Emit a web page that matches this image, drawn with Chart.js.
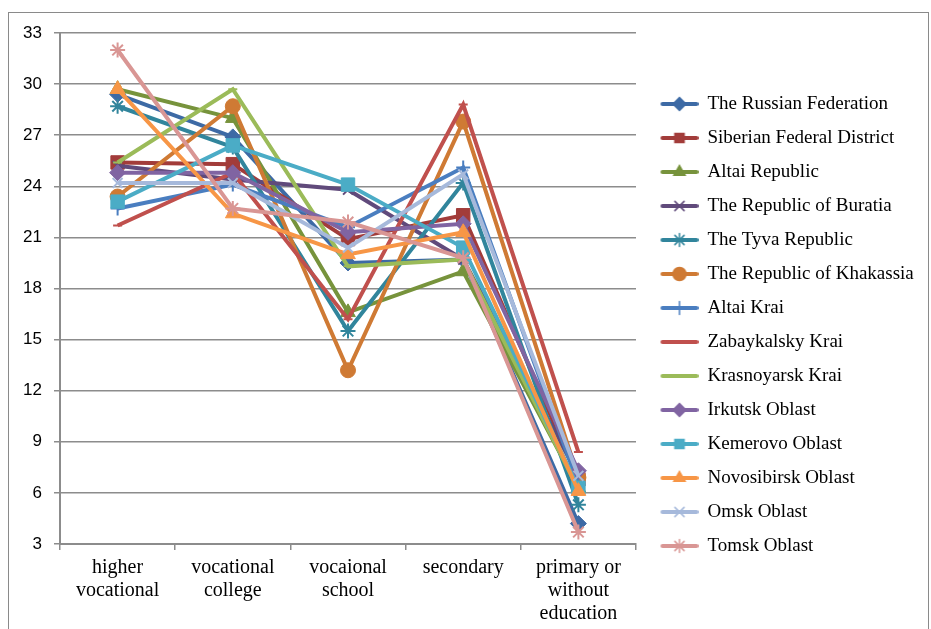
<!DOCTYPE html>
<html>
<head>
<meta charset="utf-8">
<script src="https://cdn.jsdelivr.net/npm/chart.js@4/dist/chart.umd.min.js"></script>
<style>
  html, body { margin: 0; padding: 0; background: #fff; overflow: hidden; }
  #wrap { position: relative; width: 931px; height: 629px; }
  #frame { position: absolute; left: 8px; top: 12px; width: 919px; height: 640px; border: 1px solid #8a8a8a; }
  canvas { position: absolute; left: 0; top: 0; }
</style>
</head>
<body>
<div id="wrap">
  <div id="frame"></div>
  <canvas id="chartCanvas" width="931" height="629"></canvas>
</div>
<script>
// categories (x axis), multi-line like in the picture
const categories = [
  ['higher', 'vocational'],
  ['vocational', 'college'],
  ['vocaional', 'school'],
  ['secondary'],
  ['primary or', 'without', 'education']
];

const yTicks = [3, 6, 9, 12, 15, 18, 21, 24, 27, 30, 33];

// series values
const russianFederation = [29.4, 26.9, 19.5, 19.7, 4.2];
const siberianFD        = [25.4, 25.3, 20.9, 22.3, 6.8];
const altaiRepublic     = [29.7, 28.0, 16.6, 19.0, 6.3];
const buratia           = [25.2, 24.4, 23.8, 19.7, 7.0];
const tyva              = [28.7, 26.3, 15.5, 24.2, 5.3];
const khakassia         = [23.4, 28.7, 13.2, 27.8, 6.9];
const altaiKrai         = [22.7, 24.1, 21.6, 25.1, 6.5];
const zabaykalsky       = [21.7, 24.8, 16.2, 28.8, 8.4];
const krasnoyarsk       = [25.4, 29.7, 19.3, 19.7, 6.2];
const irkutsk           = [24.8, 24.8, 21.3, 21.8, 7.3];
const kemerovo          = [23.1, 26.4, 24.1, 20.4, 6.3];
const novosibirsk       = [29.7, 22.4, 20.0, 21.3, 6.1];
const omsk              = [24.2, 24.2, 20.4, 24.7, 7.0];
const tomsk             = [32.0, 22.7, 21.9, 19.8, 3.7];

const seriesNames = [
  'The Russian Federation', 'Siberian Federal District', 'Altai Republic',
  'The Republic of Buratia', 'The Tyva Republic', 'The Republic of Khakassia',
  'Altai Krai', 'Zabaykalsky Krai', 'Krasnoyarsk Krai', 'Irkutsk Oblast',
  'Kemerovo Oblast', 'Novosibirsk Oblast', 'Omsk Oblast', 'Tomsk Oblast'
];
const seriesValues = [
  russianFederation, siberianFD, altaiRepublic, buratia, tyva, khakassia,
  altaiKrai, zabaykalsky, krasnoyarsk, irkutsk, kemerovo, novosibirsk, omsk, tomsk
];
const seriesColors = [
  '#3D6AA5', '#A23C3A', '#77933C', '#604A7B', '#31859C', '#CF7A34',
  '#4A7EC0', '#C0504D', '#9BBB59', '#8064A2', '#4BACC6', '#F79646', '#A6B9DB', '#D99694'
];
const seriesMarkers = [
  'rectRot', 'rect', 'triangle', 'crossRot', 'star', 'circle',
  'cross', 'line', 'line', 'rectRot', 'rect', 'triangle', 'crossRot', 'star'
];

// marker radius per marker type
const markerRadius = { rectRot: 8, rect: 9.5, triangle: 8.5, crossRot: 7, star: 7.5, circle: 7.5, cross: 7, line: 4.5 };

const gridColor = '#8c8c8c';

function thinMarker(m) {
  return m === 'cross' || m === 'crossRot' || m === 'star' || m === 'line';
}

// small canvas for legend: line with the marker in the middle
function legendIcon(color, marker) {
  const c = document.createElement('canvas');
  c.width = 48; c.height = 18;
  const ctx = c.getContext('2d');
  ctx.strokeStyle = color;
  ctx.lineWidth = 4;
  ctx.lineCap = 'round';
  ctx.beginPath();
  ctx.moveTo(12, 9);
  ctx.lineTo(46, 9);
  ctx.stroke();
  if (marker !== 'line' && Chart.helpers && Chart.helpers.drawPoint) {
    ctx.fillStyle = color;
    ctx.lineWidth = 1.5;
    Chart.helpers.drawPoint(ctx, {pointStyle: marker, radius: 6.5, rotation: 0, borderWidth: 1.5}, 29, 9);
  }
  return c;
}

const datasets = seriesNames.map((name, i) => ({
  label: name,
  data: seriesValues[i],
  borderColor: seriesColors[i],
  backgroundColor: seriesColors[i],
  borderWidth: 4,
  pointStyle: seriesMarkers[i],
  pointRadius: markerRadius[seriesMarkers[i]],
  pointBorderWidth: thinMarker(seriesMarkers[i]) ? 2 : 1,
  pointBackgroundColor: seriesColors[i],
  pointBorderColor: seriesColors[i],
  tension: 0,
  fill: false,
  order: seriesNames.length - i  // later series painted on top
}));

const fixLegendWidth = {
  id: 'fixLegendWidth',
  afterInit(chart) {
    const lg = chart.legend;
    const origFit = lg.fit;
    lg.fit = function () {
      origFit.call(this);
      this.width = 295;
    };
  }
};

const chart = new Chart(document.getElementById('chartCanvas').getContext('2d'), {
  type: 'line',
  data: { labels: categories, datasets: datasets },
  plugins: [fixLegendWidth],
  options: {
    responsive: false,
    animation: false,
    layout: { padding: { left: 0, top: 33, right: 0, bottom: 0 } },
    plugins: {
      tooltip: { enabled: false },
      legend: {
        position: 'right',
        align: 'start',
        // empty title only used as a spacer above the items
        title: { display: true, text: '', font: { size: 10, lineHeight: 1 }, padding: { top: 0, bottom: 36.5 } },
        labels: {
          usePointStyle: true,
          pointStyleWidth: 47,
          boxHeight: 16,
          padding: 15,
          color: '#000',
          font: { family: '"Liberation Serif", "Times New Roman", serif', size: 19 },
          generateLabels(ch) {
            return ch.data.datasets.map((ds, i) => ({
              text: ds.label,
              pointStyle: legendIcon(seriesColors[i], seriesMarkers[i]),
              fillStyle: seriesColors[i],
              strokeStyle: seriesColors[i],
              fontColor: '#000',
              lineWidth: 0,
              hidden: false,
              datasetIndex: i
            }));
          }
        }
      }
    },
    scales: {
      x: {
        offset: true,
        afterFit(scale) { scale.height = 85; },
        grid: {
          offset: true,
          drawOnChartArea: false,
          color: gridColor,
          lineWidth: 1.5,
          tickLength: 6
        },
        border: { color: gridColor, width: 2 },
        ticks: {
          color: '#000',
          maxRotation: 0,
          autoSkip: false,
          padding: 6,
          font: { family: '"Liberation Serif", "Times New Roman", serif', size: 20, lineHeight: 1.15 }
        }
      },
      y: {
        min: 3,
        max: 33,
        afterFit(scale) { scale.width = 60; },
        afterBuildTicks(scale) { scale.ticks = yTicks.map(v => ({ value: v })); },
        grid: {
          color: gridColor,
          lineWidth: 1.5,
          tickLength: 6
        },
        border: { color: gridColor, width: 2 },
        ticks: {
          color: '#000',
          padding: 12,
          font: { family: '"Liberation Sans", Arial, sans-serif', size: 17 }
        }
      }
    }
  }
});
</script>
</body>
</html>
